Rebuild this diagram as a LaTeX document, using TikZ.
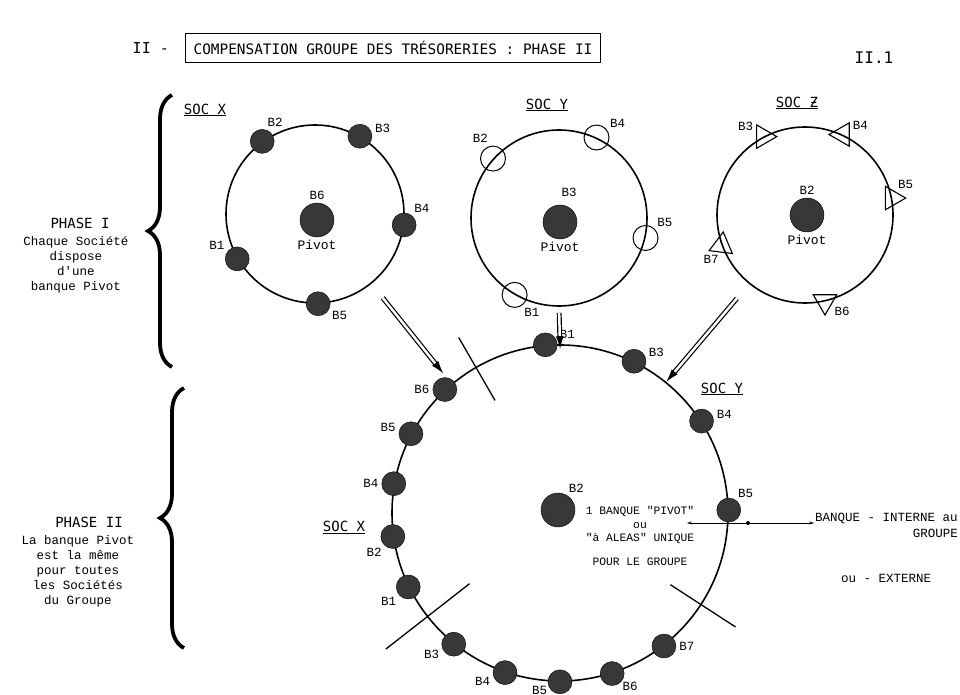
\documentclass[tikz,border=0pt]{standalone}
\usepackage{fontspec}
\newfontfamily\gothic{DejaVu Sans Mono}
\newfontfamily\courier{Liberation Mono}
\usetikzlibrary{positioning,arrows.meta,calc,shapes.geometric,decorations.pathreplacing}

\begin{document}
\begin{tikzpicture}[
		x=1pt, y=-1pt,
		>=Latex,
		ring/.style={circle, draw, line width=1.6pt, inner sep=0pt},
		bank/.style={circle, draw, fill=black!78, minimum size=24pt, inner sep=0pt},
		pivot/.style={bank, minimum size=34pt},
		obank/.style={circle, draw, line width=1pt, minimum size=25pt, inner sep=0pt},
		tbank/.style={regular polygon, regular polygon sides=3, draw, line width=1.1pt,
			minimum size=27pt, inner sep=0pt},
		every label/.style={font=\courier\fontsize{12.5}{12.5}\selectfont, inner sep=1pt},
		label distance=2pt,
		pvt/.style={font=\courier\fontsize{13}{13}\selectfont},
		soc/.style={font=\gothic\fontsize{14}{14}\selectfont, inner sep=1pt},
		phase/.style={font=\gothic\fontsize{14}{14}\selectfont, inner sep=1pt},
		note/.style={font=\courier\fontsize{12.5}{15}\selectfont, align=center, inner sep=1pt},
		dbl/.style={double, double distance=2.5pt, line width=1.2pt,
			-{Latex[length=13pt,width=8pt]}},
		sep/.style={line width=1.3pt},
		brc/.style={decorate, decoration={brace, amplitude=24pt}, line width=3.8pt}
		]
		\useasboundingbox (0,0) rectangle (960,695);
		
		%--------------------------------------------------
		% Title
		%--------------------------------------------------
		
		\node[draw, line width=1.1pt, font=\gothic\fontsize{14.4}{14.4}\selectfont,
		minimum height=29pt, inner xsep=8pt] (title) at (393,48)
		{COMPENSATION GROUPE DES TRÉSORERIES : PHASE II};
		
		\node[font=\gothic\fontsize{15}{15}\selectfont, inner sep=1pt, left=15pt of title] (num)
		{II -};
		
		\node[font=\gothic\fontsize{16}{16}\selectfont] (page) at (874,58) {II.1};
		
		%--------------------------------------------------
		% Phase I : one pivot bank per company
		%--------------------------------------------------
		
		\draw[brc] (172,367) -- (172,95);
		
		\node[phase] (ph1) at (80,223) {PHASE I};
		\node[note, below=6pt of ph1, xshift=-4pt] (ph1txt)
		{Chaque Société\\dispose\\d'une\\banque Pivot};
		
		% SOC X
		\node[soc] (lx) at (205,110) {\underline{SOC X}};
		\node[ring, minimum size=178pt] (socx) at (315,214) {};
		\node[bank, label={73:B2}] (x2) at (socx.126) {};
		\node[bank, label={10:B3}] (x3) at (socx.60) {};
		\node[bank, label={50:B4}] (x4) at (socx.-7) {};
		\node[bank, label={-25:B5}] (x5) at (socx.-88) {};
		\node[bank, label={145:B1}] (x1) at (socx.210) {};
		\node[pivot, label={above:B6}, label={[pvt]below:Pivot}] (x6) at (317,220) {};
		
		% SOC Y
		\node[soc] (ly) at (547,105) {\underline{SOC Y}};
		\node[ring, minimum size=176pt] (socy) at (559,218) {};
		\node[obank, label={105:B2}] (y2) at (socy.138) {};
		\node[obank, label={35:B4}] (y4) at (socy.65) {};
		\node[obank, label={45:B5}] (y5) at (socy.-13) {};
		\node[obank, label={-55:B1}] (y1) at (socy.240) {};
		\node[pivot, label={[xshift=9pt, yshift=5pt]above:B3}, label={[pvt]below:Pivot}] (y3)
		at (560,222) {};
		
		% SOC Z
		\node[soc] (lz) at (797,103) {\underline{SOC Ƶ}};
		\node[ring, minimum size=176pt] (socz) at (805,215) {};
		\node[tbank, shape border rotate=-90, label={150:B3}] (z3) at (socz.118) {};
		\node[tbank, shape border rotate=90, label={20:B4}] (z4) at (socz.65) {};
		\node[tbank, shape border rotate=-90, label={60:B5}] (z5) at (socz.11) {};
		\node[tbank, shape border rotate=113, label={-100:B7}] (z7) at (socz.200) {};
		\node[tbank, shape border rotate=180, label={-25:B6}] (z6) at (socz.283) {};
		\node[pivot, label={above:B2}, label={[pvt]below:Pivot}] (z2) at (807,215) {};
		
		%--------------------------------------------------
		% Phase II : one pivot bank for the group
		%--------------------------------------------------
		
		\draw[brc] (184,648) -- (184,388);
		
		\node[phase] (ph2) at (89,522) {PHASE II};
		\node[note, below=6pt of ph2, xshift=-11pt] (ph2txt)
		{La banque Pivot\\est la même\\pour toutes\\les Sociétés\\du Groupe};
		
		\node[ring, minimum size=336pt] (grp) at (560,513) {};
		
		% part of SOC Y
		\node[bank, label={20:B1}] (gy1) at (grp.95) {};
		\node[bank, label={15:B3}] (gy3) at (grp.64) {};
		\node[bank, label={5:B4}] (gy4) at (grp.33) {};
		\node[bank, label={55:B5}] (gy5) at (grp.1) {};
		\node[soc] (lgy) at (722,389) {\underline{SOC Y}};
		
		% part of SOC X
		\node[bank, label={180:B6}] (gx6) at (grp.133) {};
		\node[bank, label={175:B5}] (gx5) at (grp.152) {};
		\node[bank, label={180:B4}] (gx4) at (grp.170) {};
		\node[bank, label={-135:B2}] (gx2) at (grp.188) {};
		\node[bank, label={-140:B1}] (gx1) at (grp.206) {};
		\node[soc] (lgx) at (344,527) {\underline{SOC X}};
		
		% part of SOC Z
		\node[bank, label={200:B3}] (gz3) at (grp.231) {};
		\node[bank, label={195:B4}] (gz4) at (grp.251) {};
		\node[bank, label={[label distance=0pt]196:B5}] (gz5) at (grp.270) {};
		\node[bank, label={[label distance=0pt]-40:B6}] (gz6) at (grp.288) {};
		\node[bank, label={0:B7}] (gz7) at (grp.308) {};
		
		% common pivot
		\node[pivot, label={60:B2}] (gp) at (558,510) {};
		\node[font=\courier\fontsize{11.3}{13.5}\selectfont, align=center, inner sep=0pt] (gptxt)
		at (640,536) {1 BANQUE "PIVOT"\\ou\\"à ALEAS" UNIQUE\\[10pt]POUR LE GROUPE};
		
		% sector limits
		\draw[sep] ($(grp.center)!0.77!(grp.120)$) -- ($(grp.center)!1.2!(grp.120)$);
		\draw[sep] ($(grp.center)!0.68!(grp.218)$) -- ($(grp.center)!1.31!(grp.218)$);
		\draw[sep] ($(grp.center)!0.78!(grp.327)$) -- ($(grp.center)!1.24!(grp.327)$);
		
		% internal or external bank
		\node[circle, fill, inner sep=0pt, minimum size=4pt] (ext) at (748,523) {};
		\coordinate (inend) at (687,523);
		\node[note, anchor=west] (intxt) at (814,518) {BANQUE - INTERNE au};
		\node[note, anchor=east] (grpword) at (959,533) {GROUPE};
		\node[note] (extxt) at (886,578) {ou - EXTERNE};
		
		%--------------------------------------------------
		% Connections
		%--------------------------------------------------
		
		\draw[dbl, shorten <=18pt, shorten >=13pt] (socx.-51) -- (grp.130);
		\draw[dbl, shorten <=6pt, shorten >=-5pt] (socy.south) -- (grp.north);
		\draw[dbl, shorten <=19pt] (socz.231) -- (grp.51);
		
		\draw[thin, -{Stealth[length=5pt,width=3pt]}] (ext) -- (inend);
		\draw[thin, -{Stealth[length=5pt,width=3pt]}] (ext) -- (ext -| intxt.west);
		
	\end{tikzpicture}
\end{document}
